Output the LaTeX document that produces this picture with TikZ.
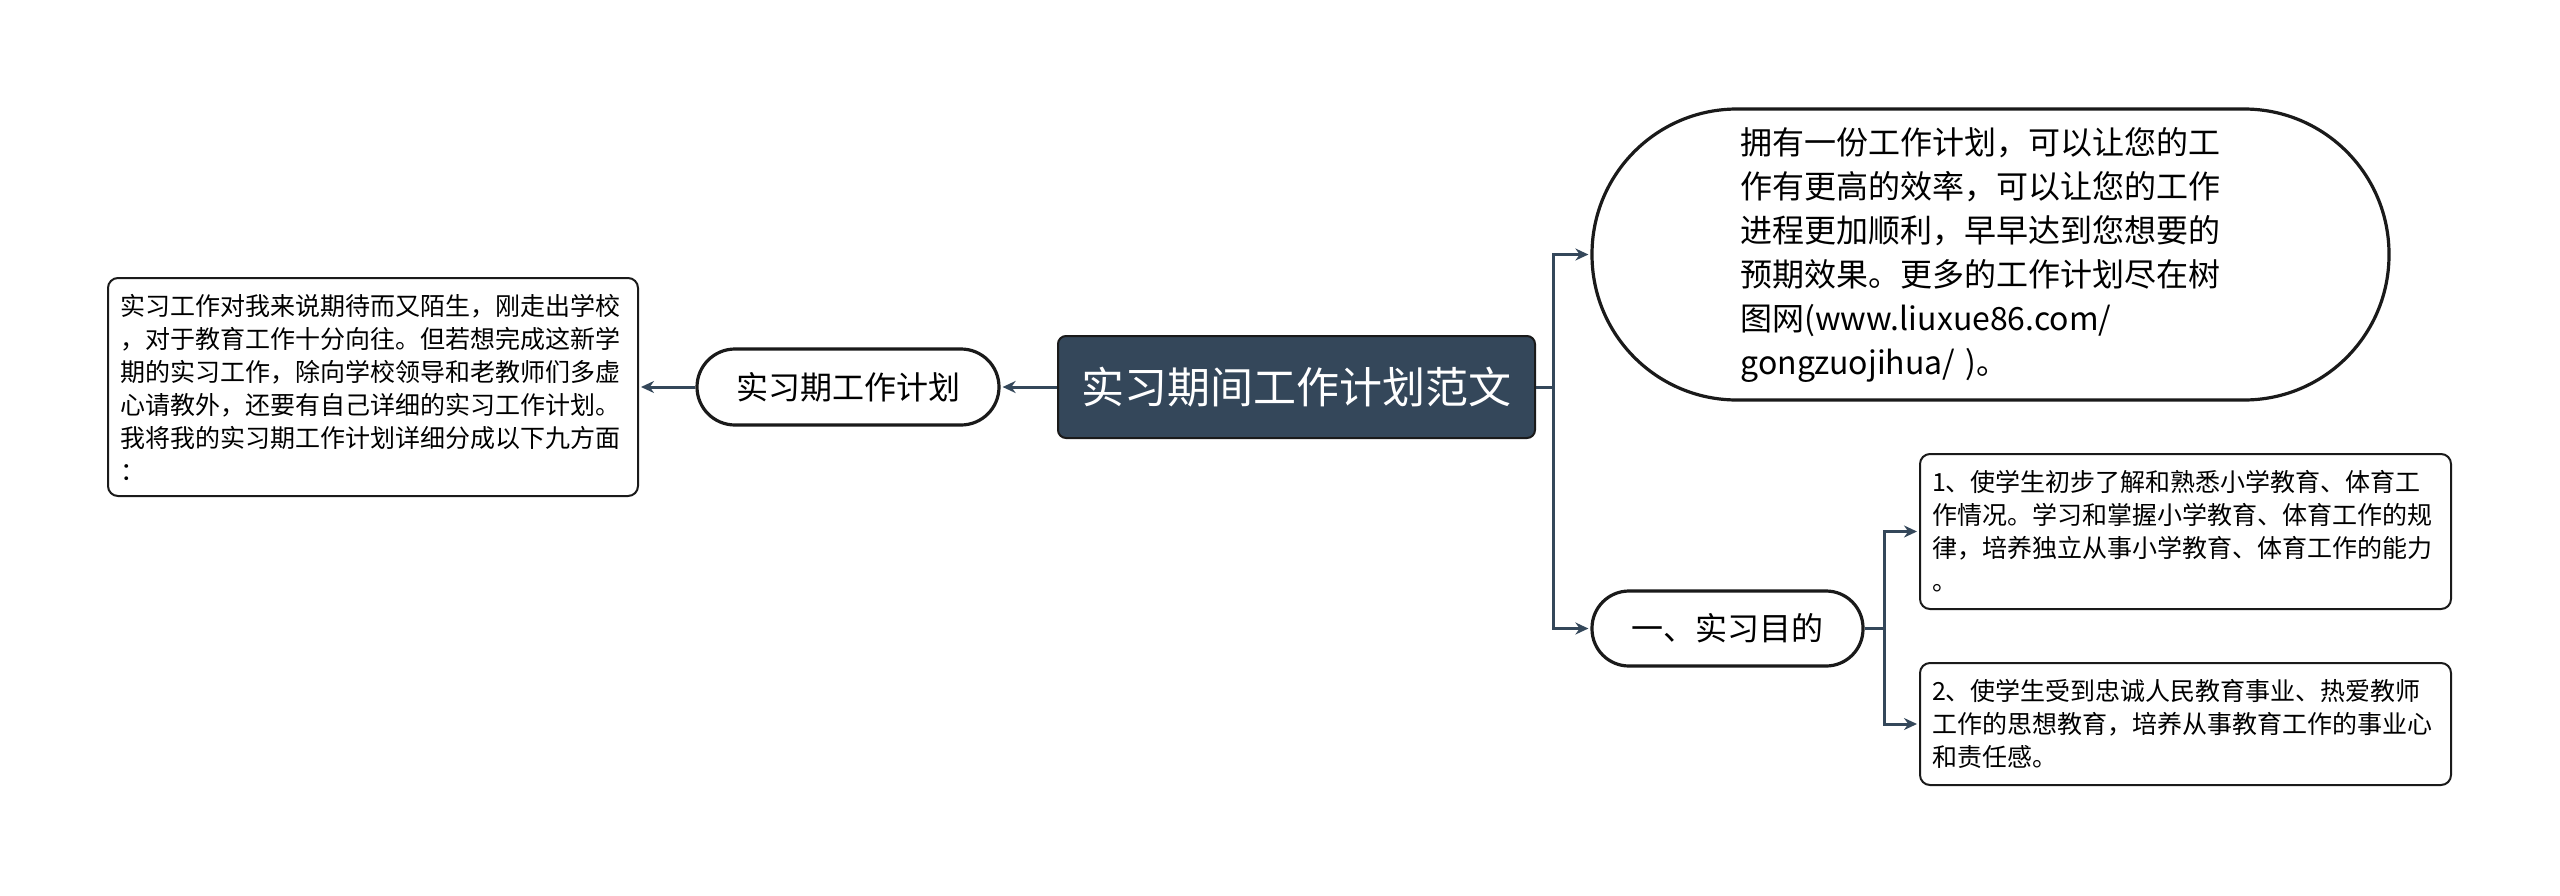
\documentclass[tikz,border=0pt]{standalone}
\usepackage{fontspec}
\setmainfont{Noto Sans CJK SC}
\usetikzlibrary{arrows.meta}
\definecolor{hub}{HTML}{34475A}
\definecolor{linkc}{HTML}{34475A}
\definecolor{edge}{HTML}{1A1A1A}
\begin{document}
\begin{tikzpicture}[x=1pt,y=1pt,
  conn/.style={draw=linkc,line width=3pt,-{Stealth[length=13pt,width=12pt]},shorten >=2pt},
  pill/.style={draw=edge,line width=3.2pt,fill=white,inner sep=0pt},
  textbox/.style={draw=edge,line width=2pt,fill=white,rounded corners=10pt,inner xsep=12pt,inner ysep=0pt,align=left,
     font=\fontsize{25}{33}\selectfont}]
\useasboundingbox (0,0) rectangle (2560,-895);
\fill[white] (0,0) rectangle (2560,-895);

\node[draw=edge,line width=2pt,fill=hub,rounded corners=8pt,minimum width=477pt,minimum height=102pt,inner sep=0pt,
  text=white,font=\fontsize{43}{50}\selectfont] (central) at (1296.5,-387) {实习期间工作计划范文};

\node[pill,rounded corners=38pt,minimum width=302pt,minimum height=76pt,font=\fontsize{32}{40}\selectfont]
  (plan) at (848,-387) {实习期工作计划};

\node[textbox,text width=506pt,minimum height=218pt] (intro) at (373,-387) {实习工作对我来说期待而又陌生，刚走出学校\\
，对于教育工作十分向往。但若想完成这新学\\
期的实习工作，除向学校领导和老教师们多虚\\
心请教外，还要有自己详细的实习工作计划。\\
我将我的实习期工作计划详细分成以下九方面\\
：};

\node[pill,rounded corners=145pt,minimum width=797pt,minimum height=291pt,align=left,text width=500pt,
  font=\fontsize{32}{44}\selectfont] (note) at (1990.5,-254.5) {拥有一份工作计划，可以让您的工\\
作有更高的效率，可以让您的工作\\
进程更加顺利，早早达到您想要的\\
预期效果。更多的工作计划尽在树\\
图网(www.liuxue86.com/\\
gongzuojihua/ )。};

\node[pill,rounded corners=37pt,minimum width=271pt,minimum height=75pt,font=\fontsize{32}{40}\selectfont]
  (goal) at (1727.5,-628.5) {一、实习目的};

\node[textbox,text width=507pt,minimum height=155pt] (g1) at (2185.5,-531.5) {1、使学生初步了解和熟悉小学教育、体育工\\
作情况。学习和掌握小学教育、体育工作的规\\
律，培养独立从事小学教育、体育工作的能力\\
。};

\node[textbox,text width=507pt,minimum height=122pt] (g2) at (2185.5,-724) {2、使学生受到忠诚人民教育事业、热爱教师\\
工作的思想教育，培养从事教育工作的事业心\\
和责任感。};

\coordinate (b1) at (1553,-387);
\coordinate (b2) at (1884,-628.5);

\draw[conn] (central.west) -- (plan.east);
\draw[conn] (plan.west) -- (intro.east);
\draw[conn] (central.east) -- (b1) |- (note.west);
\draw[conn] (central.east) -- (b1) |- (goal.west);
\draw[conn] (goal.east) -- (b2) |- (g1.west);
\draw[conn] (goal.east) -- (b2) |- (g2.west);
\end{tikzpicture}
\end{document}
